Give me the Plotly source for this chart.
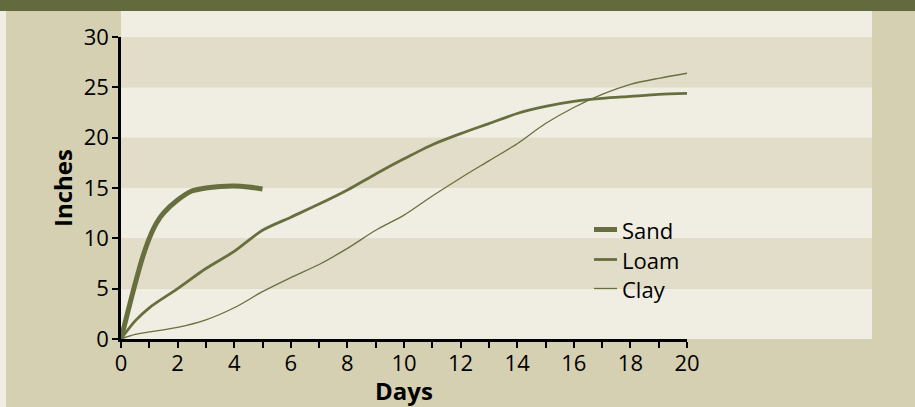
import plotly.graph_objects as go

# ---- data ----
sand_days = [0, 0.25, 0.5, 0.75, 1, 1.25, 1.5, 2, 2.5, 3, 3.5, 4, 4.5, 5]
sand_in = [0, 2.8, 5.5, 8.0, 10.0, 11.5, 12.5, 13.8, 14.7, 15.0, 15.15, 15.2, 15.1, 14.9]

loam_days = [0, 0.5, 1, 2, 3, 4, 5, 6, 7, 8, 9, 10, 11, 12, 13, 14, 15, 16, 17, 18, 19, 20]
loam_in = [0, 1.8, 3.1, 5.0, 7.0, 8.7, 10.8, 12.1, 13.4, 14.8, 16.4, 17.9, 19.3, 20.4, 21.4, 22.4, 23.1, 23.6, 23.9, 24.1, 24.3, 24.4]

clay_days = [0, 0.5, 1, 2, 3, 4, 5, 6, 7, 8, 9, 10, 11, 12, 13, 14, 15, 16, 17, 18, 19, 20]
clay_in = [0, 0.45, 0.7, 1.15, 1.9, 3.1, 4.7, 6.1, 7.4, 9.0, 10.8, 12.3, 14.2, 16.0, 17.7, 19.4, 21.4, 23.0, 24.3, 25.3, 25.9, 26.4]

series_names = ["Sand", "Loam", "Clay"]
y_ticks = [0, 5, 10, 15, 20, 25, 30]
x_tick_labels = [0, 2, 4, 6, 8, 10, 12, 14, 16, 18, 20]

# ---- style ----
W, H = 915, 407
ML, MR, MT, MB = 121, 228, 37, 68
PW = W - ML - MR
PH = H - MT - MB
Y_MAX = 30
LINE = "rgb(104,111,63)"
BG = "rgb(213,208,178)"
LIGHT = "rgb(240,238,226)"
DARK = "rgb(226,221,200)"
TOPBAR = "rgb(99,106,62)"
FONT = "Open Sans"
WIDTHS = [5, 2.8, 1.3]


def px_x(p):
    return (p - ML) / PW


def px_y(p):
    return (H - MB - p) / PH


fig = go.Figure()
for name, xs, ys, w in zip(series_names, [sand_days, loam_days, clay_days],
                           [sand_in, loam_in, clay_in], WIDTHS):
    fig.add_trace(go.Scatter(x=xs, y=ys, name=name, mode="lines", showlegend=False,
                             line=dict(color=LINE, width=w, shape="spline", smoothing=0.8)))

shapes = []
annotations = []
# top bar
shapes.append(dict(type="rect", xref="paper", yref="paper", layer="below",
                   x0=px_x(-5), x1=px_x(W + 5), y0=px_y(11), y1=px_y(-5),
                   fillcolor=TOPBAR, line=dict(width=0)))
# left light edge
shapes.append(dict(type="rect", xref="paper", yref="paper", layer="below",
                   x0=px_x(-5), x1=px_x(6), y0=px_y(H + 5), y1=px_y(11),
                   fillcolor=LIGHT, line=dict(width=0)))
# stripes
x_right = px_x(872)
bands = list(zip(y_ticks[:-1], y_ticks[1:]))
for i, (a, b) in enumerate(bands):
    shapes.append(dict(type="rect", xref="paper", yref="paper", layer="below",
                       x0=0, x1=x_right, y0=a / Y_MAX, y1=b / Y_MAX,
                       fillcolor=LIGHT if i % 2 == 0 else DARK, line=dict(width=0)))
shapes.append(dict(type="rect", xref="paper", yref="paper", layer="below",
                   x0=0, x1=x_right, y0=1, y1=px_y(11),
                   fillcolor=LIGHT, line=dict(width=0)))

# legend (drawn as swatches + text)
leg_rows = [229.5, 259.5, 288.5]
for name, w, yy in zip(series_names, WIDTHS, leg_rows):
    shapes.append(dict(type="line", xref="paper", yref="paper", layer="above",
                       x0=px_x(594), x1=px_x(617), y0=px_y(yy), y1=px_y(yy),
                       line=dict(color=LINE, width=w)))
    annotations.append(dict(text=name, xref="paper", yref="paper", showarrow=False,
                            x=px_x(620), y=px_y(yy), xanchor="left", yanchor="middle",
                            font=dict(size=22, family=FONT, color="black")))

fig.update_layout(
    width=W, height=H,
    margin=dict(l=ML, r=MR, t=MT, b=MB, autoexpand=False),
    paper_bgcolor=BG, plot_bgcolor="rgba(0,0,0,0)",
    font=dict(family=FONT, size=22, color="black"),
    shapes=shapes,
    annotations=annotations,
    showlegend=False,
    xaxis=dict(range=[0, 20], tickvals=x_tick_labels, ticks="outside", ticklen=6,
               tickwidth=2, tickcolor="black", showline=True, linewidth=2.5,
               linecolor="black", showgrid=False, zeroline=False,
               ticklabelstandoff=-3,
               minor=dict(dtick=1, ticks="outside", ticklen=6, tickwidth=2,
                          tickcolor="black", showgrid=False),
               title=dict(text="<b>Days</b>", standoff=0, font=dict(size=24)),
               automargin=False),
    yaxis=dict(range=[0, Y_MAX], tickvals=y_ticks, ticks="outside", ticklen=6,
               tickwidth=2, tickcolor="black", showline=True, linewidth=2.5,
               linecolor="black", showgrid=False, zeroline=False,
               ticklabelstandoff=-1,
               title=dict(text="<b>Inches</b>", standoff=5, font=dict(size=24)),
               automargin=False),
)

fig.write_html("out.html", config={"displayModeBar": False},
               post_script="document.body.style.margin='0';")
